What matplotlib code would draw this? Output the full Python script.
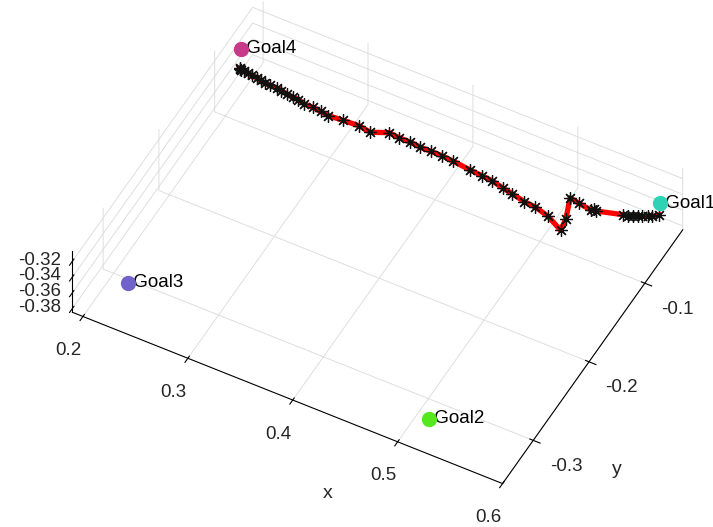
import matplotlib
matplotlib.use("Agg")
import matplotlib.pyplot as plt
import matplotlib.transforms as mtransforms
import numpy as np

plt.rcParams['font.family'] = ['Liberation Sans', 'DejaVu Sans']
plt.rcParams['axes.unicode_minus'] = False

# Trajectory (end-effector path), all at constant height
traj_x = [0.200, 0.201, 0.202, 0.205, 0.209, 0.213, 0.218, 0.222, 0.227, 0.232, 0.238,
          0.243, 0.249, 0.255, 0.260, 0.267, 0.275, 0.283, 0.291, 0.304, 0.319,
          0.331, 0.345, 0.355, 0.366, 0.376, 0.386, 0.397, 0.408, 0.425, 0.437,
          0.447, 0.459, 0.469, 0.482, 0.493, 0.507, 0.524, 0.522, 0.514, 0.523,
          0.536, 0.538, 0.540, 0.562, 0.566, 0.570, 0.574, 0.577, 0.581, 0.585, 0.589]
traj_y = [-0.074, -0.075, -0.075, -0.075, -0.076, -0.076, -0.077, -0.078, -0.079, -0.079, -0.079,
          -0.080, -0.081, -0.082, -0.082, -0.084, -0.084, -0.085, -0.086, -0.085, -0.084,
          -0.086, -0.079, -0.080, -0.080, -0.081, -0.081, -0.081, -0.082, -0.084, -0.085,
          -0.086, -0.089, -0.091, -0.094, -0.095, -0.099, -0.108, -0.095, -0.072, -0.074,
          -0.076, -0.074, -0.075, -0.068, -0.067, -0.065, -0.063, -0.062, -0.059, -0.058, -0.054]
traj_z = [-0.350] * len(traj_x)

# Goals
goal_names = ['Goal1', 'Goal2', 'Goal3', 'Goal4']
goal_x = [0.584, 0.526, 0.230, 0.191]
goal_y = [-0.042, -0.347, -0.331, -0.054]
goal_z = [-0.350, -0.350, -0.350, -0.350]
goal_colors = ['#2ed3b5', '#55e81c', '#7062c9', '#c8398a']

x_ticks = [0.2, 0.3, 0.4, 0.5, 0.6]
y_ticks = [-0.3, -0.2, -0.1]
z_ticks = [-0.38, -0.36, -0.34, -0.32]

xlim = (0.19, 0.60)
ylim = (-0.355, -0.032)
zlim = (-0.385, -0.307)

fig = plt.figure(figsize=(7.13, 5.27), dpi=100)
ax = fig.add_axes([0.0196, 0.0304, 1.0, 1.0], projection='3d', proj_type='ortho')
ax.set_xlim(*xlim)
ax.set_ylim(*ylim)
ax.set_zlim(*zlim)
ax.set_box_aspect((xlim[1]-xlim[0], ylim[1]-ylim[0], zlim[1]-zlim[0]), zoom=1.155)
ax.view_init(elev=48.5, azim=-62)

for axis in (ax.xaxis, ax.yaxis, ax.zaxis):
    axis.set_pane_color((1, 1, 1, 0))
    axis._axinfo['grid']['color'] = (0.87, 0.87, 0.87, 1)
    axis._axinfo['grid']['linewidth'] = 0.7
    axis._axinfo['axisline']['color'] = (0.15, 0.15, 0.15, 1)
    axis._axinfo['tick']['color'] = (0.15, 0.15, 0.15, 1)

ax.zaxis.set_ticks_position('lower')
ax.zaxis.set_label_position('lower')

ax.set_xticks(x_ticks)
ax.set_yticks(y_ticks)
ax.set_zticks(z_ticks)
ax.set_xticklabels([f'{v:g}' for v in x_ticks], fontsize=13.5, color='#262626')
ax.set_yticklabels([f'{v:g}' for v in y_ticks], fontsize=13.5, color='#262626')
ax.set_zticklabels([])
ax.tick_params(axis='x', pad=8)
ax.tick_params(axis='y', pad=7)
for t in ax.zaxis.get_major_ticks():
    t.label1.set_visible(False)
    t.label2.set_visible(False)

# z tick labels, placed horizontally to the left of the z axis (MATLAB style)
zlab_tr = mtransforms.offset_copy(ax.transData, fig=fig, x=-11, y=1, units='dots')
for zt in z_ticks:
    ax.text(xlim[0], ylim[0], zt, f'{zt:g}', fontsize=13.5, ha='right', va='center',
            color='#262626', transform=zlab_tr, clip_on=False)

ax.plot(traj_x, traj_y, traj_z, color='red', lw=3.8, zorder=3, clip_on=False)
ax.plot(traj_x, traj_y, traj_z, ls='none', marker=(8, 2, 0), ms=9, mew=0.9,
        color='#111111', zorder=4, clip_on=False)

for name, gx, gy, gz, c in zip(goal_names, goal_x, goal_y, goal_z, goal_colors):
    ax.plot([gx], [gy], [gz], ls='none', marker='o', ms=10, color=c, zorder=5, clip_on=False)
    ax.text(gx, gy, gz, ' ' + name, fontsize=13.5, ha='left', va='center', color='black',
            clip_on=False)

fig.text(328 / 713, 1 - 493 / 527, 'x', fontsize=14, ha='center', va='center', color='#262626')
fig.text(617 / 713, 1 - 470 / 527, 'y', fontsize=14, ha='center', va='center', color='#262626')

fig.savefig('out.png', dpi=100)
